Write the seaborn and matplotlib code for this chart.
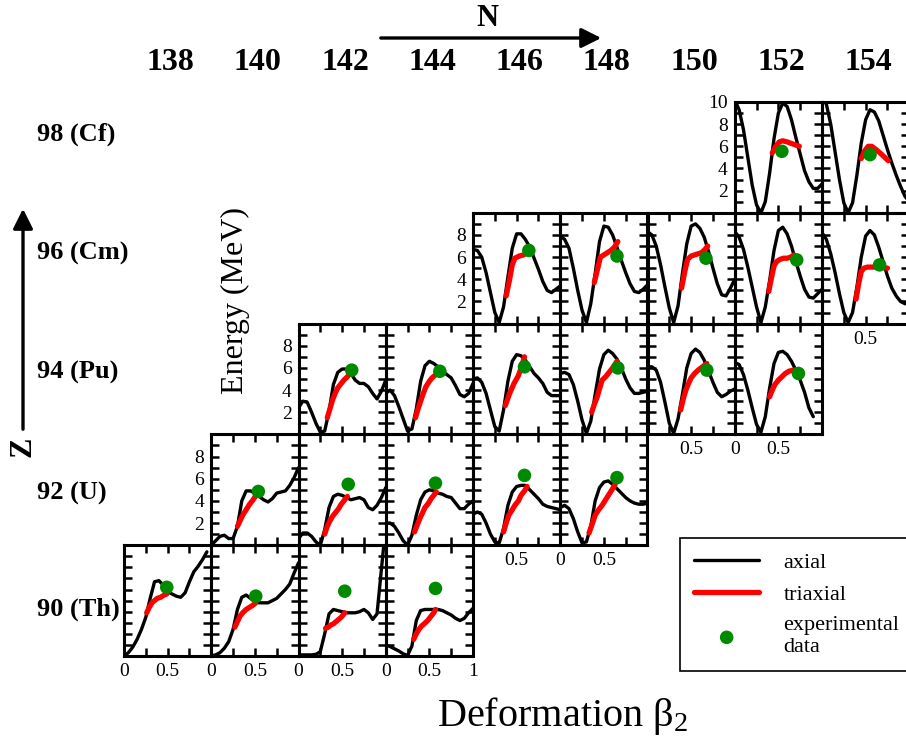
import matplotlib
matplotlib.use("Agg")
import matplotlib.pyplot as plt
import seaborn as sns
from matplotlib.patches import FancyArrowPatch
from matplotlib.ticker import FixedLocator

# ---------------- data ----------------
BETA = [0.00, 0.05, 0.10, 0.15, 0.20, 0.25, 0.30, 0.35, 0.40, 0.45, 0.50,
        0.55, 0.60, 0.65, 0.70, 0.75, 0.80, 0.85, 0.90, 0.95, 1.00]

N_COLUMNS = [138, 140, 142, 144, 146, 148, 150, 152, 154]
Z_ROWS = [98, 96, 94, 92, 90]
Z_LABELS = ["98 (Cf)", "96 (Cm)", "94 (Pu)", "92 (U)", "90 (Th)"]

# (element, Z, N) in drawing order
NUCLEI = [("Cf", 98, 152), ("Cf", 98, 154),
          ("Cm", 96, 146), ("Cm", 96, 148), ("Cm", 96, 150), ("Cm", 96, 152), ("Cm", 96, 154),
          ("Pu", 94, 142), ("Pu", 94, 144), ("Pu", 94, 146), ("Pu", 94, 148), ("Pu", 94, 150), ("Pu", 94, 152),
          ("U", 92, 140), ("U", 92, 142), ("U", 92, 144), ("U", 92, 146), ("U", 92, 148),
          ("Th", 90, 138), ("Th", 90, 140), ("Th", 90, 142), ("Th", 90, 144)]

# axial barrier curves (energy in MeV at BETA points)
CF152_AX = [10.2, 9.3, 7.5, 5.0, 2.5, 0.7, 0.0, 1.0, 3.6, 6.7, 9.0, 9.9, 9.6, 8.4, 6.8, 5.3, 3.8, 2.8, 2.2, 2.2, 2.6]
CF154_AX = [10.4, 9.8, 8.0, 5.5, 3.0, 0.9, 0.0, 0.9, 3.4, 6.3, 8.4, 9.3, 9.1, 8.3, 7.0, 5.7, 4.5, 3.4, 2.4, 1.5, 1.0]
CM146_AX = [6.7, 6.6, 6.0, 4.6, 2.8, 1.0, 0.1, 1.5, 4.2, 6.8, 8.1, 8.1, 7.6, 6.9, 5.9, 4.9, 3.8, 3.0, 2.8, 3.1, 3.4]
CM148_AX = [7.9, 7.6, 6.8, 5.0, 3.0, 1.2, 0.1, 1.8, 4.5, 7.4, 8.8, 8.7, 8.0, 6.9, 5.7, 4.6, 3.6, 2.9, 2.8, 3.1, 3.5]
CM150_AX = [8.3, 8.0, 7.0, 5.3, 3.3, 1.4, 0.1, 1.6, 4.5, 7.2, 8.8, 9.0, 8.6, 7.8, 6.5, 5.0, 3.6, 2.6, 2.5, 3.2, 4.0]
CM152_AX = [8.3, 7.8, 6.7, 5.1, 3.3, 1.5, 0.1, 1.5, 3.9, 6.6, 8.4, 8.7, 8.1, 7.0, 5.6, 4.3, 3.1, 2.4, 2.3, 2.7, 3.1]
CM154_AX = [8.2, 7.6, 6.3, 4.6, 2.7, 1.0, 0.1, 1.0, 3.3, 6.0, 7.9, 8.4, 8.0, 6.9, 5.6, 4.3, 3.2, 2.5, 2.0, 1.8, 1.8]
PU142_AX = [2.4, 3.0, 2.9, 2.0, 1.0, 0.2, 0.3, 2.1, 4.5, 5.6, 5.9, 5.9, 5.5, 4.9, 4.6, 4.6, 4.3, 3.7, 3.2, 3.9, 4.9]
PU144_AX = [3.7, 4.0, 3.5, 2.5, 1.4, 0.3, 0.5, 2.3, 4.8, 6.2, 6.6, 6.4, 6.1, 5.7, 5.4, 5.1, 4.4, 3.6, 3.4, 3.7, 4.6]
PU146_AX = [5.0, 5.1, 4.7, 3.7, 2.2, 0.7, 0.3, 2.2, 4.8, 6.6, 7.2, 7.1, 6.7, 6.1, 5.5, 5.1, 4.6, 3.8, 3.5, 3.5, 3.5]
PU148_AX = [5.5, 5.6, 5.4, 4.5, 3.0, 1.3, 0.1, 1.2, 3.6, 5.9, 7.2, 7.6, 7.3, 6.8, 6.0, 5.0, 4.2, 3.7, 3.7, 3.8, 3.9]
PU150_AX = [6.1, 6.1, 5.8, 4.7, 2.9, 1.0, 0.1, 1.4, 3.6, 6.0, 7.3, 7.7, 7.4, 6.7, 5.7, 4.7, 3.8, 3.4, 3.6, 3.9, 4.1]
PU152_AX = [6.5, 6.3, 5.4, 4.0, 2.4, 0.9, 0.2, 1.6, 4.2, 6.4, 7.4, 7.5, 7.2, 6.6, 5.8, 4.9, 3.8, 2.4, 1.6]
U140_AX = [0.0, 0.4, 0.8, 0.9, 0.6, 0.6, 1.7, 4.0, 4.9, 4.9, 4.7, 4.4, 4.1, 3.9, 4.2, 4.7, 4.8, 4.9, 5.4, 6.1, 7.0]
U142_AX = [0.6, 1.1, 1.1, 0.8, 0.3, 0.0, 1.4, 3.4, 4.4, 4.6, 4.5, 4.3, 4.1, 4.2, 4.3, 4.1, 3.4, 3.2, 3.6, 4.3, 5.2]
U144_AX = [2.0, 2.0, 1.7, 1.1, 0.4, 0.0, 0.9, 2.7, 4.1, 4.8, 5.0, 4.9, 4.7, 4.6, 4.4, 4.3, 3.8, 3.3, 3.3, 3.7, 4.0]
U146_AX = [2.8, 3.0, 2.8, 2.0, 1.0, 0.3, 0.2, 1.5, 3.6, 4.8, 5.3, 5.4, 5.4, 5.0, 4.6, 4.2, 3.7, 3.5, 3.4, 3.3, 3.2]
U148_AX = [3.4, 3.6, 3.3, 2.4, 1.2, 0.2, 0.3, 1.7, 4.0, 5.2, 5.7, 5.8, 5.5, 5.1, 4.7, 4.3, 4.0, 3.8, 3.7, 3.7, 3.8]
TH138_AX = [0.0, 0.3, 0.8, 1.5, 2.4, 3.5, 5.2, 6.7, 6.8, 6.4, 5.8, 5.6, 5.4, 5.3, 5.7, 6.7, 7.6, 8.1, 8.7, 9.4]
TH140_AX = [0.0, 0.1, 0.3, 0.7, 1.3, 2.4, 4.2, 5.3, 5.5, 5.2, 4.9, 4.8, 4.8, 4.8, 5.0, 5.2, 5.6, 6.0, 6.5, 7.5, 8.4]
TH142_AX = [0.1, 0.1, 0.1, 0.1, 0.15, 0.4, 2.0, 3.8, 4.2, 4.1, 4.0, 3.9, 3.9, 3.9, 4.0, 4.2, 3.9, 3.3, 3.8, 7.8, 11.8]
TH144_AX = [1.0, 0.85, 0.65, 0.45, 0.2, 0.05, 0.9, 3.2, 4.1, 4.2, 4.2, 4.2, 4.2, 4.1, 3.9, 3.7, 3.4, 3.2, 3.4, 3.9, 4.3]

# triaxial segments (beta, energy)
CF152_TB = [0.43, 0.47, 0.51, 0.55, 0.60, 0.67, 0.74]
CF152_TE = [5.4, 6.0, 6.4, 6.5, 6.4, 6.2, 6.0]
CF154_TB = [0.45, 0.49, 0.53, 0.57, 0.62, 0.68, 0.76]
CF154_TE = [4.9, 5.6, 6.0, 6.0, 5.7, 5.3, 4.7]
CM146_TB = [0.38, 0.42, 0.45, 0.48, 0.53, 0.58, 0.62, 0.66]
CM146_TE = [2.5, 4.0, 5.3, 5.9, 6.1, 6.2, 6.5, 6.9]
CM148_TB = [0.39, 0.43, 0.46, 0.50, 0.54, 0.58, 0.62, 0.66]
CM148_TE = [3.7, 5.0, 6.0, 6.2, 6.4, 6.6, 6.9, 7.4]
CM150_TB = [0.39, 0.43, 0.46, 0.50, 0.54, 0.58, 0.62, 0.66, 0.69]
CM150_TE = [3.2, 4.8, 5.8, 6.1, 6.2, 6.3, 6.4, 6.7, 7.0]
CM152_TB = [0.39, 0.42, 0.45, 0.48, 0.52, 0.56, 0.60, 0.64, 0.68]
CM152_TE = [2.9, 4.1, 5.2, 5.6, 5.8, 5.9, 5.9, 6.0, 6.2]
CM154_TB = [0.39, 0.42, 0.45, 0.48, 0.52, 0.57, 0.62, 0.68, 0.75]
CM154_TE = [2.2, 3.6, 4.7, 5.0, 5.1, 5.1, 5.1, 5.1, 5.0]
PU142_TB = [0.33, 0.36, 0.39, 0.42, 0.45, 0.49, 0.52, 0.56, 0.59]
PU142_TE = [1.5, 2.3, 3.1, 3.7, 4.2, 4.6, 4.9, 5.2, 5.5]
PU144_TB = [0.34, 0.37, 0.40, 0.43, 0.46, 0.50, 0.53, 0.56, 0.59]
PU144_TE = [1.5, 2.3, 3.0, 3.7, 4.3, 4.8, 5.1, 5.3, 5.5]
PU146_TB = [0.37, 0.42, 0.47, 0.52, 0.56, 0.59]
PU146_TE = [2.6, 3.7, 4.6, 5.3, 6.2, 7.0]
PU148_TB = [0.36, 0.39, 0.42, 0.45, 0.48, 0.52, 0.56, 0.60, 0.65]
PU148_TE = [2.0, 2.7, 3.3, 4.1, 4.9, 5.2, 5.6, 6.0, 6.6]
PU150_TB = [0.38, 0.41, 0.44, 0.47, 0.50, 0.54, 0.58, 0.63, 0.68]
PU150_TE = [2.2, 3.2, 4.0, 4.6, 5.1, 5.5, 5.8, 6.1, 6.4]
PU152_TB = [0.40, 0.43, 0.46, 0.50, 0.54, 0.58, 0.62, 0.67, 0.72]
PU152_TE = [3.4, 4.0, 4.5, 4.9, 5.2, 5.5, 5.7, 5.8, 5.8]
U140_TB = [0.30, 0.33, 0.36, 0.40, 0.44, 0.48, 0.52]
U140_TE = [1.7, 2.2, 2.7, 3.2, 3.7, 4.1, 4.6]
U142_TB = [0.30, 0.33, 0.36, 0.39, 0.42, 0.46, 0.49, 0.53, 0.56]
U142_TE = [1.0, 1.7, 2.2, 2.6, 2.9, 3.3, 3.7, 4.1, 4.4]
U144_TB = [0.33, 0.36, 0.39, 0.42, 0.45, 0.49, 0.52, 0.55, 0.58]
U144_TE = [1.2, 1.8, 2.4, 2.9, 3.4, 3.8, 4.2, 4.5, 4.8]
U146_TB = [0.35, 0.38, 0.41, 0.45, 0.48, 0.52, 0.55, 0.59, 0.62]
U146_TE = [1.2, 2.0, 2.7, 3.2, 3.6, 4.0, 4.5, 4.9, 5.3]
U148_TB = [0.33, 0.37, 0.40, 0.44, 0.48, 0.52, 0.56, 0.60, 0.63]
U148_TE = [1.1, 2.0, 2.7, 3.2, 3.6, 4.1, 4.6, 5.1, 5.5]
TH138_TB = [0.26, 0.29, 0.32, 0.35, 0.38, 0.42, 0.46, 0.49]
TH138_TE = [3.9, 4.4, 4.8, 5.0, 5.2, 5.3, 5.5, 5.6]
TH140_TB = [0.27, 0.30, 0.33, 0.36, 0.40, 0.44, 0.48, 0.51]
TH140_TE = [2.6, 3.1, 3.6, 3.9, 4.2, 4.4, 4.6, 4.8]
TH142_TB = [0.31, 0.34, 0.37, 0.40, 0.43, 0.46, 0.49, 0.53]
TH142_TE = [2.5, 2.6, 2.8, 2.9, 3.1, 3.3, 3.5, 3.9]
TH144_TB = [0.32, 0.35, 0.38, 0.41, 0.44, 0.48, 0.52, 0.55, 0.57]
TH144_TE = [1.5, 2.0, 2.4, 2.7, 2.9, 3.2, 3.6, 3.9, 4.2]

# experimental barrier heights, in NUCLEI order
EXP_BETA = [0.54, 0.55, 0.64, 0.65, 0.67, 0.71, 0.66, 0.61, 0.62, 0.59, 0.66,
            0.68, 0.73, 0.54, 0.57, 0.57, 0.59, 0.65, 0.49, 0.51, 0.53, 0.57]
EXP_ENERGY = [5.55, 5.25, 6.6, 6.1, 5.9, 5.75, 5.3, 5.8, 5.7, 6.1, 6.0,
              5.8, 5.5, 4.85, 5.5, 5.6, 6.3, 6.1, 6.2, 5.4, 5.85, 6.1]

X_TICKS = [0, 0.5, 1]
Y_TICKS = [2, 4, 6, 8, 10]
X_TICK_LABELS = {"Th138": ["0", "0.5", ""], "Th140": ["0", "0.5", ""],
                 "Th142": ["0", "0.5", ""], "Th144": ["0", "0.5", "1"],
                 "U146": ["", "0.5", ""], "U148": ["0", "0.5", ""],
                 "Pu150": ["", "0.5", ""], "Pu152": ["0", "0.5", ""],
                 "Cm154": ["", "0.5", ""]}
Y_TICK_LABELS = {"Cf152": ["2", "4", "6", "8", "10"],
                 "Cm146": ["2", "4", "6", "8", ""],
                 "Pu142": ["2", "4", "6", "8", ""],
                 "U140": ["2", "4", "6", "8", ""]}

# ---------------- style ----------------
sns.set_theme(style="ticks")
SERIF = ["Liberation Serif", "DejaVu Serif"]
plt.rcParams["font.family"] = SERIF
plt.rcParams["text.color"] = "black"
plt.rcParams["axes.labelcolor"] = "black"
plt.rcParams["xtick.color"] = "black"
plt.rcParams["ytick.color"] = "black"
plt.rcParams["legend.labelcolor"] = "black"
plt.rcParams["mathtext.fontset"] = "custom"
plt.rcParams["mathtext.rm"] = "Liberation Serif"
plt.rcParams["mathtext.it"] = "Liberation Serif"
plt.rcParams["mathtext.bf"] = "Liberation Serif:bold"

W, H = 906, 744
fig = plt.figure(figsize=(W / 100, H / 100), dpi=100)
fig.patch.set_facecolor("white")

COL_LEFT0, COL_W = 124.0, 87.25
ROW_TOP0, ROW_H = 102.0, 110.8


def fx(px):
    return px / W


def fy(py):
    return 1 - py / H


g = globals()
handles = None
for i, (el, z, n) in enumerate(NUCLEI):
    key = f"{el}{n}"
    ukey = key.upper()
    row = Z_ROWS.index(z)
    col = N_COLUMNS.index(n)
    left = COL_LEFT0 + col * COL_W
    top = ROW_TOP0 + row * ROW_H
    ax = fig.add_axes([fx(left), fy(top + ROW_H), COL_W / W, ROW_H / H])
    ax.patch.set_alpha(0)

    ax_vals = g[f"{ukey}_AX"]
    sns.lineplot(x=BETA[:len(ax_vals)], y=ax_vals, ax=ax, color="black",
                 linewidth=2.4, estimator=None, sort=False, zorder=2)
    line_ax = ax.lines[-1]
    sns.lineplot(x=g[f"{ukey}_TB"], y=g[f"{ukey}_TE"], ax=ax, color="#ff0000",
                 linewidth=3.8, estimator=None, sort=False, zorder=3)
    line_tri = ax.lines[-1]
    sns.scatterplot(x=[EXP_BETA[i]], y=[EXP_ENERGY[i]], ax=ax, color="#008a00",
                    s=95, edgecolor="none", linewidth=0, zorder=4)
    dots = ax.collections[-1]
    if handles is None:
        handles = [line_ax, line_tri, dots]

    ax.set_xlim(0, 1)
    ax.set_ylim(0, 10)
    ax.set_xlabel("")
    ax.set_ylabel("")
    ax.xaxis.set_major_locator(FixedLocator(X_TICKS))
    ax.xaxis.set_minor_locator(FixedLocator([0.25, 0.75]))
    ax.yaxis.set_major_locator(FixedLocator(Y_TICKS))
    ax.yaxis.set_minor_locator(FixedLocator([1, 3, 5, 7, 9]))
    ax.set_xticklabels(X_TICK_LABELS.get(key, ["", "", ""]))
    ax.set_yticklabels(Y_TICK_LABELS.get(key, ["", "", "", "", ""]))
    ax.tick_params(which="both", direction="in", top=True, right=True,
                   length=6, width=1.8, color="black", labelsize=14, pad=5,
                   labelcolor="black")
    for lab in ax.get_xticklabels() + ax.get_yticklabels():
        lab.set_family(SERIF)
    for sp in ax.spines.values():
        sp.set_linewidth(2.2)
        sp.set_color("black")
        sp.set_visible(True)
    if ax.get_legend() is not None:
        ax.get_legend().remove()

# ---------------- annotations ----------------
for c, n in enumerate(N_COLUMNS):
    fig.text(fx(COL_LEFT0 + c * COL_W + COL_W / 2 + 3), fy(63), str(n),
             ha="center", va="center", fontsize=23, fontweight="bold", color="black")

ROW_LABEL_Y = [134, 253, 372, 493, 609]
for r, lab in enumerate(Z_LABELS):
    fig.text(fx(37), fy(ROW_LABEL_Y[r]), lab, ha="left", va="center",
             fontsize=19, fontweight="bold", color="black")

fig.text(fx(487), fy(19), "N", ha="center", va="center", fontsize=22,
         fontweight="bold", color="black")
fig.add_artist(FancyArrowPatch((fx(378), fy(38)), (fx(604), fy(38)),
                               transform=fig.transFigure, arrowstyle="-|>,head_length=8,head_width=4",
                               mutation_scale=1.5, linewidth=2.4, color="black"))
fig.text(fx(23), fy(447), "Z", ha="center", va="center", fontsize=22,
         fontweight="bold", rotation=90, color="black")
fig.add_artist(FancyArrowPatch((fx(23), fy(432)), (fx(23), fy(206)),
                               transform=fig.transFigure, arrowstyle="-|>,head_length=8,head_width=4",
                               mutation_scale=1.5, linewidth=2.4, color="black"))

fig.text(fx(235), fy(300), "Energy (MeV)", ha="center", va="center",
         rotation=90, fontsize=23, color="black")
fig.text(fx(563), fy(716), r"Deformation $\mathregular{\beta_2}$", ha="center", va="center",
         fontsize=29, color="black")

leg = fig.legend(handles, ["axial", "triaxial", "experimental\ndata"],
                 loc="upper left", bbox_to_anchor=(fx(680), fy(670), 250 / W, 132 / H),
                 mode="expand", borderaxespad=0, frameon=True, fancybox=False,
                 edgecolor="black", framealpha=1, fontsize=16, handlelength=2.9,
                 handletextpad=1.1, labelspacing=0.5, borderpad=0.65, scatterpoints=1,
                 labelcolor="black")
leg.get_frame().set_linewidth(1.2)
for t in leg.get_texts():
    t.set_family(SERIF)
    t.set_color("black")

fig.savefig("out.png", dpi=100, facecolor="white")
